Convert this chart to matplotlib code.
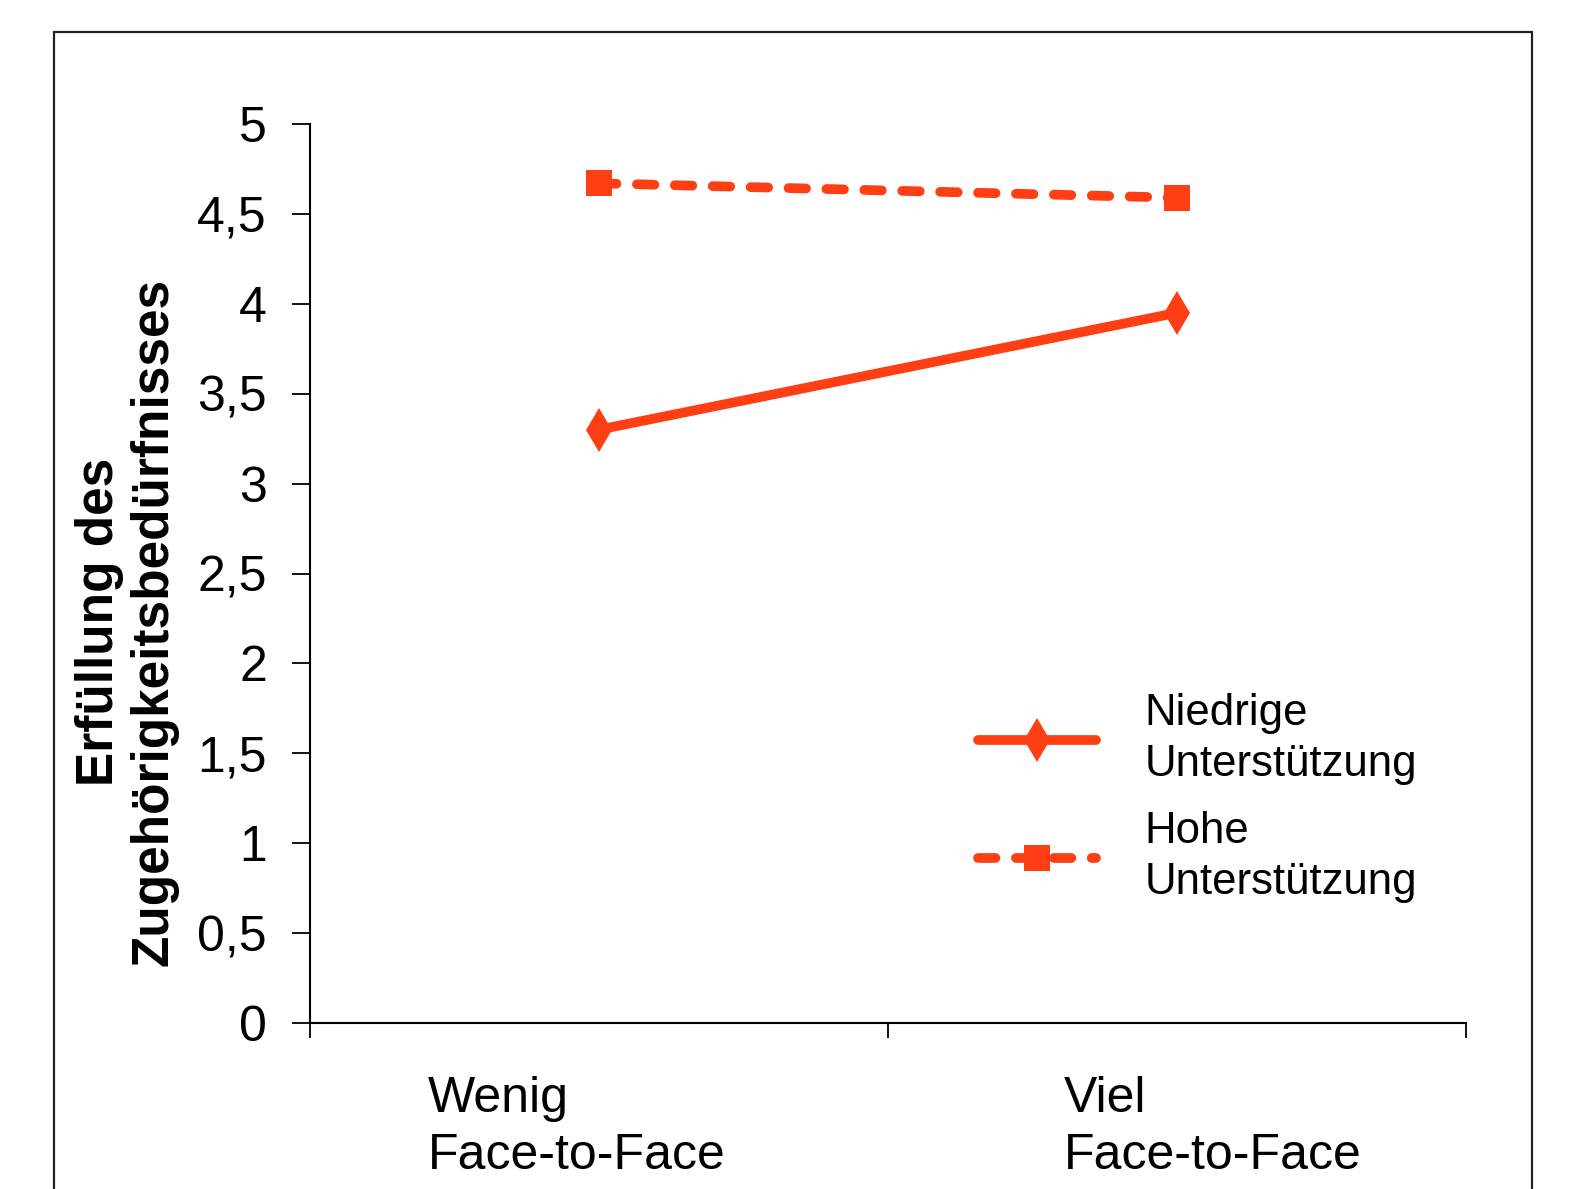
import matplotlib.pyplot as plt
from matplotlib.patches import Rectangle
from matplotlib.transforms import ScaledTranslation

categories = ["Wenig\nFace-to-Face", "Viel\nFace-to-Face"]
niedrig = [3.30, 3.95]
hoch = [4.67, 4.59]
yticks = [0, 0.5, 1, 1.5, 2, 2.5, 3, 3.5, 4, 4.5, 5]
ytick_labels = ["0", "0,5", "1", "1,5", "2", "2,5", "3", "3,5", "4", "4,5", "5"]

COLOR = '#ff3f13'

plt.rcParams['font.family'] = ['Liberation Sans', 'DejaVu Sans']

fig = plt.figure(figsize=(15.76, 11.89), dpi=100)
ax = fig.add_axes([310 / 1576, 1 - 1023 / 1189, (1466 - 310) / 1576, (1023 - 124) / 1189])

xpos = [i + 0.5 for i in range(len(categories))]

ax.plot(xpos, niedrig, color=COLOR, lw=7, marker='d', ms=22, mew=0,
        solid_capstyle='round', label="Niedrige\nUnterstützung")
ax.plot(xpos, hoch, color=COLOR, lw=7, marker='s', ms=19, mew=0,
        linestyle=(0, (1.8, 2.1)), dash_capstyle='round',
        label="Hohe\nUnterstützung")

ax.set_xlim(0, len(categories))
ax.set_ylim(0, 5)
ax.set_yticks(yticks, ytick_labels)
ax.set_xticks(range(len(categories) + 1), [""] * (len(categories) + 1))
ax.set_xticks(xpos, categories, minor=True)

ax.tick_params(axis='y', direction='out', length=13, width=1.3, labelsize=36, pad=18)
ax.tick_params(axis='x', which='major', direction='out', length=11, width=1.3)
ax.tick_params(axis='x', which='minor', length=0, labelsize=36, pad=38)

# Excel places the wrapped category labels a little off-centre
shifts = [-22, 36]
for lbl, dx in zip(ax.get_xticklabels(minor=True), shifts):
    lbl.set_multialignment('left')
    lbl.set_linespacing(1.3)
    lbl.set_transform(lbl.get_transform() + ScaledTranslation(dx / 100, 0, fig.dpi_scale_trans))

for s in ['top', 'right']:
    ax.spines[s].set_visible(False)
for s in ['left', 'bottom']:
    ax.spines[s].set_linewidth(1.5)

fig.text(127 / 1576, 1 - 622 / 1189, "Erfüllung des\nZugehörigkeitsbedürfnisses",
         rotation=90, ha='center', va='center', fontsize=37, fontweight='bold',
         linespacing=1.15)

leg = ax.legend(loc='center left', bbox_to_anchor=(978 / 1576, 1 - 798 / 1189),
                bbox_transform=fig.transFigure, frameon=False, fontsize=31.5,
                handlelength=2.7, handletextpad=1.1, labelspacing=0.6, borderpad=0,
                numpoints=1, borderaxespad=0)
for t in leg.get_texts():
    t.set_linespacing(1.3)

# frame around whole chart area
fig.patches.append(Rectangle((54 / 1576, -0.05), (1532 - 54) / 1576, 1 - 32 / 1189 + 0.05,
                             transform=fig.transFigure, fill=False, lw=1.6,
                             edgecolor='#222222', clip_on=False))

fig.savefig("out.png", dpi=100)
